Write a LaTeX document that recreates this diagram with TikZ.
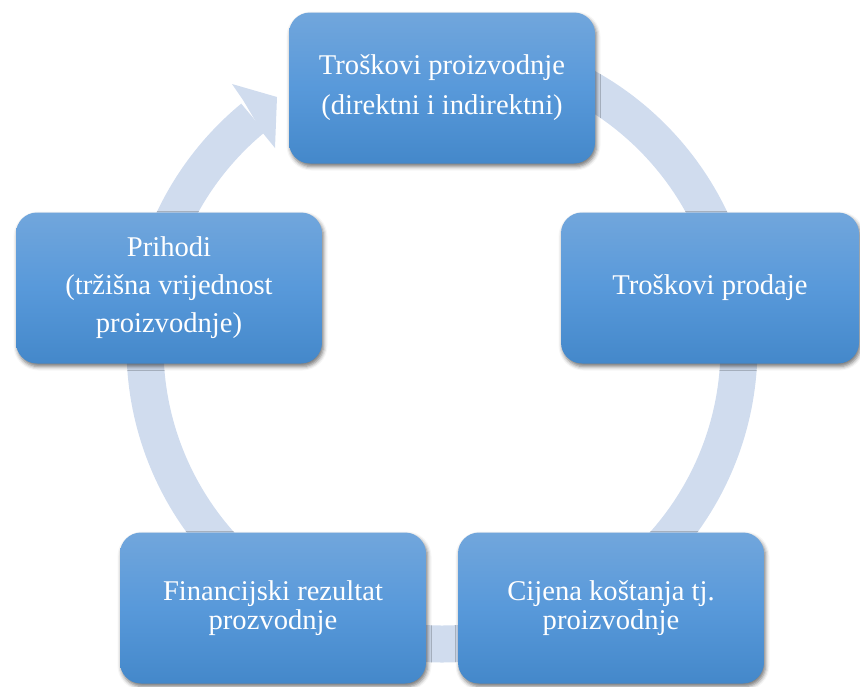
\documentclass[tikz,border=0pt]{standalone}
\usepackage{fontspec}
\setmainfont{Liberation Serif}
\usepackage{tikz}
\usetikzlibrary{shadows.blur}

\definecolor{ringblue}{RGB}{208,220,238}
\definecolor{boxtop}{RGB}{113,166,220}
\definecolor{boxmid}{RGB}{88,153,218}
\definecolor{boxbot}{RGB}{68,136,202}

\tikzset{
  stage/.style={rounded corners=21pt, minimum width=306pt, minimum height=151pt,
    top color=boxtop, bottom color=boxbot, middle color=boxmid,
    text=white, align=center, inner sep=6pt,
    font=\fontsize{28.6}{38}\selectfont,
    blur shadow={shadow xshift=1.5pt, shadow yshift=-3pt, shadow blur radius=4pt, shadow opacity=55}},
  ring/.style={draw=ringblue, line width=37pt, line cap=butt}
}

\begin{document}
\begin{tikzpicture}[x=1pt,y=-1pt]
  \useasboundingbox (0,0) rectangle (860,686);

  % Circular arrow behind the boxes
  \draw[ring] (442,50) arc[start angle=-90, end angle=230.5, radius=297];
  \fill[ringblue] (243,100) -- (232,84) -- (277,97) -- (275,148) -- (262,132) -- cycle;

  % Stages
  \node[stage] (proiz) at (442,88)
    {Troškovi proizvodnje\\[2pt](direktni i indirektni)};
  \node[stage, minimum width=298pt] (prodaja) at (710,288) {Troškovi prodaje};
  \node[stage, font=\fontsize{28.6}{29}\selectfont] (cijena) at (611,608)
    {Cijena koštanja tj.\\proizvodnje};
  \node[stage, font=\fontsize{28.6}{29}\selectfont] (rezultat) at (273,608)
    {Financijski rezultat\\prozvodnje};
  \node[stage] (prihodi) at (169,288)
    {Prihodi\\(tržišna vrijednost\\proizvodnje)};
\end{tikzpicture}
\end{document}
